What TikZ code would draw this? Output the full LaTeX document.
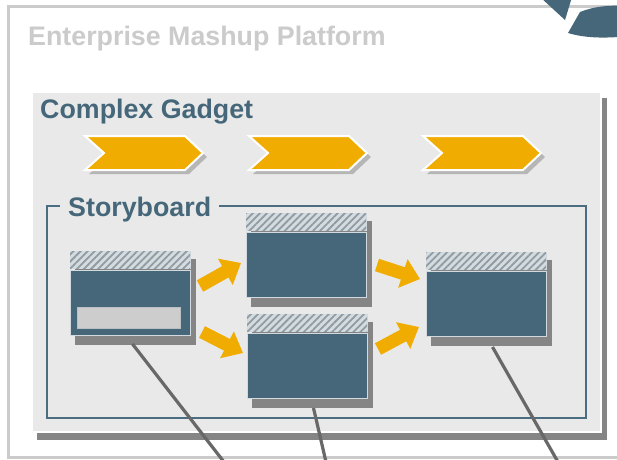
\documentclass[tikz,border=0pt]{standalone}
\usepackage{fontspec}
\setmainfont{Liberation Sans}
\usetikzlibrary{arrows.meta,patterns.meta,calc}
\definecolor{blu}{HTML}{456779}
\definecolor{framec}{HTML}{4A6D82}
\definecolor{shadowc}{HTML}{858585}
\definecolor{panelc}{HTML}{E9E9E9}
\definecolor{orangec}{HTML}{F0AC00}
\definecolor{titlegray}{HTML}{CBCBCB}
\definecolor{hdrbg}{HTML}{D6DBDE}
\definecolor{hdrline}{HTML}{8E9CA5}
\definecolor{edgec}{HTML}{D2DAE0}
\definecolor{connc}{HTML}{686868}
\definecolor{barc}{HTML}{CDCDCD}
\newcommand\bigfont{\fontsize{26.8}{30}\bfseries\selectfont}
\newcommand\mywin[3]{%
  \fill[shadowc] (#2+5,#3+8) rectangle (#2+126,#3+94);
  \path[hdrbox] (#2,#3) rectangle (#2+120,#3+17);
  \node[wbody, anchor=north west] (#1) at (#2,#3+19) {};
}
\begin{document}
\begin{tikzpicture}[x=1pt,y=-1pt,
  wbody/.style={fill=blu, draw=edgec, line width=1pt, minimum width=120pt, minimum height=65pt, inner sep=0pt},
  hdrbox/.style={fill=hdrbg, draw=edgec, line width=0.8pt,
     postaction={pattern={Lines[angle=45,distance=5pt,line width=1.8pt]}, pattern color=hdrline}},
  bigarrow/.style={draw=orangec, line width=13pt, -{Triangle[width=29pt,length=18pt]}},
  conn/.style={draw=connc, line width=3.2pt},
  chev/.style={fill=orangec, draw=white, line width=2pt, line join=miter},
  chevsh/.style={fill=shadowc!60},
  ttl/.style={anchor=base west, inner sep=0pt, font=\bigfont}]
\useasboundingbox (0,0) rectangle (617,459);
\clip (0,0) rectangle (617,459);
\fill[white] (0,0) rectangle (617,459);
% outer platform border
\draw[titlegray, line width=3pt] (8,6) rectangle (660,457);
% circular arrow fragment top right
\fill[blu] (540,-3) -- (572,-3) -- (565,20) -- cycle;
\fill[blu] (580,12) .. controls (595,6) and (610,5) .. (630,6) -- (630,36)
  .. controls (610,38) and (588,39) .. (568,33) -- cycle;
\node[ttl, text=titlegray] (tplat) at (28,45) {Enterprise Mashup Platform};
% complex gadget panel
\fill[shadowc] (37,98) rectangle (607,440);
\draw[fill=panelc, draw=white, line width=1.5pt] (32,92) rectangle (601,432);
\node[ttl, text=blu] (tgadget) at (40,118) {Complex Gadget};
% chevrons
\foreach \dx in {0,164,338}{
  \fill[chevsh] (85+\dx+4,136+4) -- (185+\dx+4,136+4) -- (203+\dx+4,153+4) -- (185+\dx+4,170+4) -- (85+\dx+4,170+4) -- (104+\dx+4,153+4) -- cycle;
  \path[chev] (85+\dx,136) -- (185+\dx,136) -- (203+\dx,153) -- (185+\dx,170) -- (85+\dx,170) -- (104+\dx,153) -- cycle;
}
% storyboard frame
\draw[framec, line width=2.5pt] (60,206) -- (47,206) -- (47,418) -- (586,418) -- (586,206) -- (219,206);
\node[ttl, text=blu] (tstory) at (68,216) {Storyboard};
% windows
\mywin{w1}{70}{251}
\mywin{w2}{246}{213}
\mywin{w3}{247}{314}
\mywin{w4}{426}{252}
\node[fill=barc, draw=edgec!70!gray, line width=0.6pt, minimum width=103pt, minimum height=21pt, inner sep=0pt, anchor=north west] (bar) at (77,307) {};
% connector lines
\coordinate (e1) at (224,462);
\coordinate (e2) at (326,462);
\coordinate (e3) at (558,462);
\draw[conn] ($(w1.south)+(2,8)$) -- (e1);
\draw[conn] ($(w3.south)+(6,9)$) -- (e2);
\draw[conn] ($(w4.south)+(6,10)$) -- (e3);
% block arrows
\coordinate (a1s) at (200,286); \coordinate (a1e) at (241,263);
\coordinate (a2s) at (202,332); \coordinate (a2e) at (243,353);
\coordinate (a3s) at (377,265); \coordinate (a3e) at (420,279);
\coordinate (a4s) at (378,349); \coordinate (a4e) at (419,327);
\draw[bigarrow] (a1s) -- (a1e);
\draw[bigarrow] (a2s) -- (a2e);
\draw[bigarrow] (a3s) -- (a3e);
\draw[bigarrow] (a4s) -- (a4e);
\end{tikzpicture}
\end{document}
